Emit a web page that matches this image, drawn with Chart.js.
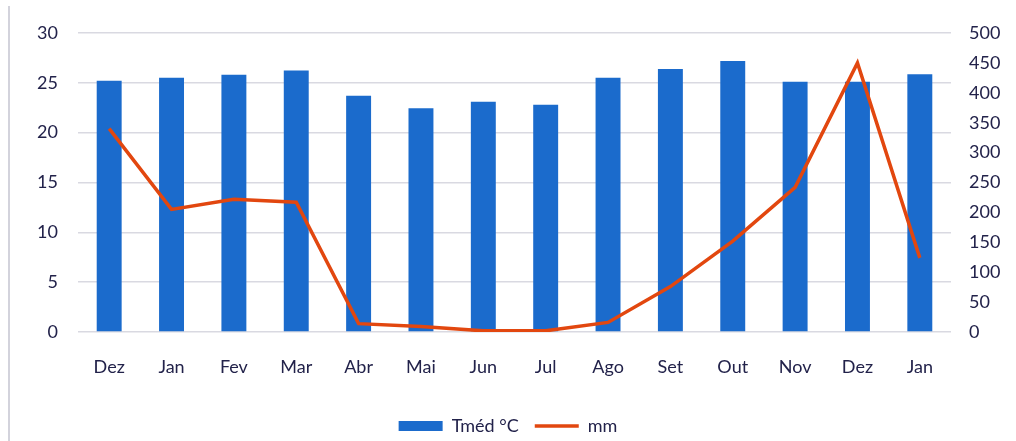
<!DOCTYPE html>
<html>
<head>
<meta charset="utf-8">
<script src="https://cdn.jsdelivr.net/npm/chart.js@4/dist/chart.umd.min.js"></script>
<style>
  html, body { margin: 0; padding: 0; background: #ffffff; }
  #wrap { position: relative; width: 1016px; height: 441px; overflow: hidden; }
  #frame { position: absolute; left: 8px; top: 6px; bottom: 0; border-left: 2px solid #d3d3dc; }
  canvas { position: absolute; left: 0; top: 0; }
</style>
</head>
<body>
<div id="wrap">
  <div id="frame"></div>
  <canvas id="chart" width="1016" height="441"></canvas>
</div>
<script>
// Months shown along the x axis
const months = ['Dez', 'Jan', 'Fev', 'Mar', 'Abr', 'Mai', 'Jun', 'Jul', 'Ago', 'Set', 'Out', 'Nov', 'Dez', 'Jan'];
// Mean temperature (°C), left axis
const tempMedia = [25.2, 25.5, 25.8, 26.25, 23.7, 22.45, 23.1, 22.8, 25.5, 26.4, 27.2, 25.1, 25.1, 25.85];
// Rainfall (mm), right axis
const chuvaMm = [340, 205, 222, 217, 14, 9, 2, 2, 16, 76, 152, 242, 450, 124];
// Axis ranges
const tempAxis = { min: 0, max: 30, step: 5 };
const chuvaAxis = { min: 0, max: 500, step: 50 };

const textColor = '#22224a';
const gridColor = '#d9d9e1';
const font = { family: 'Lato', size: 18 };

new Chart(document.getElementById('chart'), {
  data: {
    labels: months,
    datasets: [
      {
        type: 'bar',
        label: 'Tméd °C',
        data: tempMedia,
        yAxisID: 'yTemp',
        backgroundColor: '#1b6bcc',
        borderWidth: 0,
        barPercentage: 0.8,
        categoryPercentage: 0.5,
        pointStyle: 'rect',
        order: 2
      },
      {
        type: 'line',
        label: 'mm',
        data: chuvaMm,
        yAxisID: 'yChuva',
        borderColor: '#e2470f',
        backgroundColor: '#e2470f',
        borderWidth: 3.5,
        pointRadius: 0,
        pointHoverRadius: 0,
        tension: 0,
        pointStyle: 'line',
        order: 1
      }
    ]
  },
  options: {
    responsive: false,
    animation: false,
    layout: { padding: { top: 33, left: 0, right: 0, bottom: -4 } },
    plugins: {
      tooltip: { enabled: false },
      legend: {
        position: 'bottom',
        labels: {
          usePointStyle: true,
          pointStyleWidth: 44,
          boxHeight: 10,
          color: textColor,
          font: font,
          padding: 16,
          sort: (a, b) => a.datasetIndex - b.datasetIndex
        }
      }
    },
    scales: {
      x: {
        grid: { display: false, drawTicks: false },
        border: { display: false },
        ticks: { color: textColor, font: font, padding: 24, maxRotation: 0, autoSkip: false },
        afterFit: (s) => { s.height = 69; }
      },
      yTemp: {
        position: 'left',
        min: tempAxis.min,
        max: tempAxis.max,
        grid: { color: gridColor, lineWidth: 1.5, drawTicks: false },
        border: { display: false },
        ticks: { stepSize: tempAxis.step, color: textColor, font: font, padding: 20 },
        afterFit: (s) => { s.width = 78; }
      },
      yChuva: {
        position: 'right',
        min: chuvaAxis.min,
        max: chuvaAxis.max,
        grid: { display: false, drawTicks: false },
        border: { display: false },
        ticks: { stepSize: chuvaAxis.step, color: textColor, font: font, padding: 18 },
        afterFit: (s) => { s.width = 65; }
      }
    }
  }
});
</script>
</body>
</html>
